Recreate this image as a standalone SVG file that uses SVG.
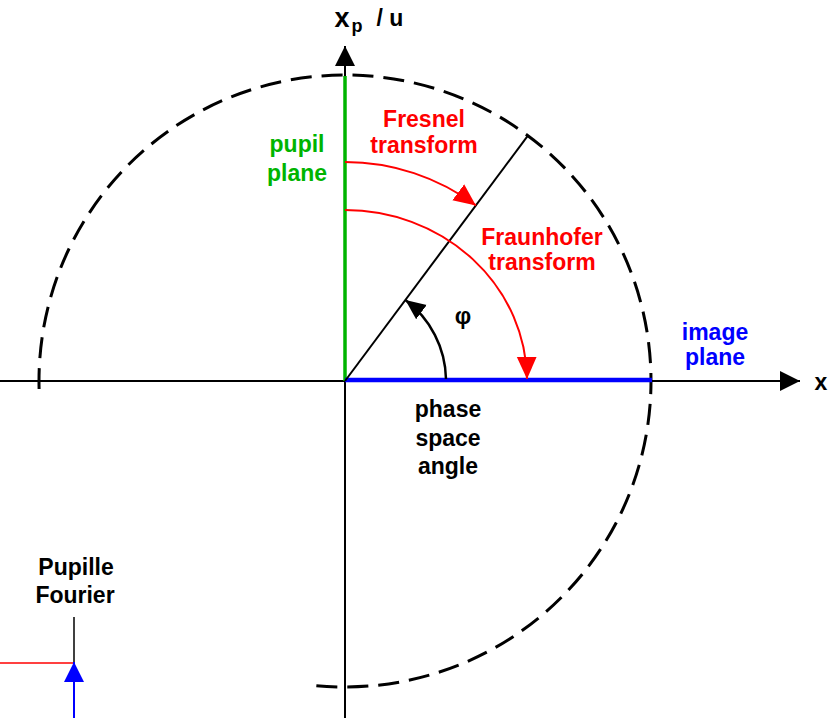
<svg xmlns="http://www.w3.org/2000/svg" width="832" height="718" viewBox="0 0 832 718">
<style>
text{font-family:"Liberation Sans",Arial,sans-serif;font-weight:bold;font-size:23px;text-anchor:middle}
.axis{stroke:#000;stroke-width:2;fill:none}
.red{fill:#ff0000}
.green{fill:#00b400}
.blue{fill:#0000ff}
</style>
<defs>
<marker id="ahBlack" markerUnits="userSpaceOnUse" markerWidth="20" markerHeight="20" viewBox="0 0 16 16" refX="16" refY="8" orient="auto">
<path d="M0,0 L16,8 L0,16 Z" fill="#000"/>
</marker>
<marker id="ahRed" markerUnits="userSpaceOnUse" markerWidth="22" markerHeight="22" viewBox="0 0 20 18" refX="20" refY="9" orient="auto">
<path d="M0,0 L20,9 L0,18 Z" fill="#ff0000"/>
</marker>
<marker id="ahPhi" markerUnits="userSpaceOnUse" markerWidth="20" markerHeight="20" viewBox="0 0 18 16" refX="18" refY="8" orient="auto">
<path d="M0,0 L18,8 L0,16 Z" fill="#000"/>
</marker>
<marker id="ahBlue" markerUnits="userSpaceOnUse" markerWidth="20" markerHeight="20" viewBox="0 0 15 15" refX="15" refY="7.5" orient="auto">
<path d="M0,0 L15,7.5 L0,15 Z" fill="#0000ff"/>
</marker>
</defs>

<g id="circle">
<path d="M39.1,389 A306,306 0 1 1 312,685.2" fill="none" stroke="#000" stroke-width="3" stroke-dasharray="21 10"/>
</g>

<g id="connectors">
<line class="axis" x1="345" y1="718" x2="345" y2="46" marker-end="url(#ahBlack)"/>
<line class="axis" x1="0" y1="381" x2="800" y2="381" marker-end="url(#ahBlack)"/>
<line x1="345" y1="76" x2="345" y2="381" stroke="#00b400" stroke-width="3.5"/>
<line x1="345" y1="380" x2="652" y2="380" stroke="#0000ff" stroke-width="4.5"/>
<line x1="345" y1="381" x2="527.9" y2="135.6" stroke="#000" stroke-width="2"/>
<path d="M345,162 A219,219 0 0 1 475.9,205.4" fill="none" stroke="#ff0000" stroke-width="2" marker-end="url(#ahRed)"/>
<path d="M345,210 A182,171 0 0 1 527,379" fill="none" stroke="#ff0000" stroke-width="2" marker-end="url(#ahRed)"/>
<path d="M446,379 A101,101 0 0 0 405.4,300.1" fill="none" stroke="#000" stroke-width="2.5" marker-end="url(#ahPhi)"/>
<line x1="74" y1="617" x2="74" y2="663" stroke="#000" stroke-width="1.5"/>
<line x1="0" y1="663" x2="74" y2="663" stroke="#ff0000" stroke-width="1.5"/>
<line x1="74" y1="718" x2="74" y2="662" stroke="#0000ff" stroke-width="2" marker-end="url(#ahBlue)"/>
</g>

<g id="label-xp">
<text x="342" y="27" style="font-size:27px">x</text>
<text x="357" y="32" style="font-size:18px">p</text>
<text x="390" y="26">/ u</text>
</g>
<g id="label-x"><text x="821" y="390">x</text></g>
<g id="label-pupil">
<text x="297" y="152" class="green">pupil</text>
<text x="297" y="181" class="green">plane</text>
</g>
<g id="label-fresnel">
<text x="424" y="127" class="red">Fresnel</text>
<text x="424" y="153" class="red">transform</text>
</g>
<g id="label-fraunhofer">
<text x="542" y="245" class="red">Fraunhofer</text>
<text x="542" y="270" class="red">transform</text>
</g>
<g id="label-phi"><text x="463" y="324">φ</text></g>
<g id="label-image">
<text x="715" y="340" class="blue">image</text>
<text x="715" y="365" class="blue">plane</text>
</g>
<g id="label-phase">
<text x="448" y="417">phase</text>
<text x="448" y="446">space</text>
<text x="448" y="474">angle</text>
</g>
<g id="label-pupille">
<text x="76" y="575">Pupille</text>
<text x="75" y="603">Fourier</text>
</g>
</svg>
